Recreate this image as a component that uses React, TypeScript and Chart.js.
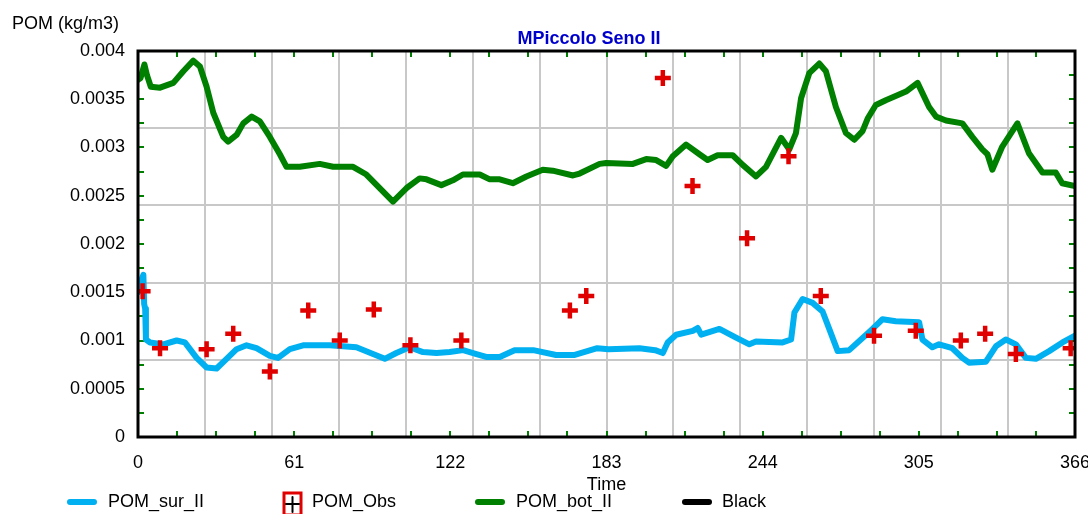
import React, { useEffect, useRef } from 'react';
import { Chart, registerables } from 'chart.js';

Chart.register(...registerables);

const FONT = "'Liberation Sans', Arial, Helvetica, sans-serif";

const chartTitle = 'MPiccolo Seno II';
const yAxisTitle = 'POM (kg/m3)';
const xAxisTitle = 'Time';

const xTickLabels = [0, 61, 122, 183, 244, 305, 366];
const yTickValues = [0, 0.0005, 0.001, 0.0015, 0.002, 0.0025, 0.003, 0.0035, 0.004];
const yTickLabels = ['0', '0.0005', '0.001', '0.0015', '0.002', '0.0025', '0.003', '0.0035', '0.004'];
const xGridDivisions = 14;
const yGridValues = [0.0008, 0.0016, 0.0024, 0.0032];
const xMinorDivisions = 24;
const yMinorStep = 0.00025;

const seriesNames = ['POM_sur_II', 'POM_Obs', 'POM_bot_II', 'Black'];
const seriesColors = ['#00B0F0', '#E00000', '#008000', '#000000'];

const surDays = [
  0, 1.5, 2.1, 2.4, 2.8, 3.1, 4.7, 9.9, 15.1, 18.3, 22.9, 26.8, 30.7, 34.6, 38.5, 42.4, 46.3,
  51.5, 54.7, 59.3, 64.5, 74.9, 85.3, 91.8, 96.4, 100.9, 106.1, 111.3, 116.6, 121.7, 127,
  132.2, 136, 141.3, 147.1, 154.4, 163.3, 170.6, 179.4, 183.8, 195.9, 202, 205, 206.9, 210.2,
  216.7, 218.6, 220, 227.1, 233.6, 238.8, 241.4, 251.8, 255.1, 256.4, 259.6, 263.5, 267.4,
  270, 273.3, 277.8, 286.9, 290.8, 296, 305.1, 306.4, 310.3, 312.9, 318.1, 322, 324.6, 331.2,
  335.1, 339, 342.9, 346.8, 350.7, 355.9, 361.1, 366,
];
const surValues = [
  0.0015, 0.00164, 0.00168, 0.00138, 0.00133, 0.00101, 0.00098, 0.00096, 0.001, 0.00098,
  0.00082, 0.00072, 0.00071, 0.00081, 0.00091, 0.00095, 0.00092, 0.00084, 0.00082, 0.00091,
  0.00095, 0.00095, 0.00093, 0.00086, 0.00081, 0.00087, 0.00093, 0.00088, 0.00087, 0.00088,
  0.0009, 0.00086, 0.00083, 0.00083, 0.0009, 0.0009, 0.00085, 0.00085, 0.00092, 0.00091,
  0.00092, 0.0009, 0.00087, 0.00098, 0.00106, 0.0011, 0.00113, 0.00106, 0.00112, 0.00103,
  0.00096, 0.00099, 0.00098, 0.00101, 0.00129, 0.00143, 0.00139, 0.0013, 0.00112, 0.00089,
  0.0009, 0.00112, 0.00122, 0.0012, 0.00119, 0.00101, 0.00093, 0.00096, 0.00092, 0.00082,
  0.00077, 0.00078, 0.00094, 0.00101, 0.00096, 0.00082, 0.00081, 0.00089, 0.00098, 0.00105,
];

const botDays = [
  0, 1, 2.5, 3.5, 5, 8.6, 13.8, 17.7, 21.6, 24.2, 26.8, 29.4, 33.3, 35.2, 38.5, 41.1, 44.4,
  47.6, 51.5, 55.4, 58, 63.2, 71, 76.2, 84, 89.2, 94.4, 99.6, 104.9, 110, 112.7, 118.5, 123,
  126.9, 133.5, 137.4, 141.3, 146.4, 151.7, 158.1, 162, 169.9, 172.5, 180.3, 182.9, 193.3,
  198.5, 202.4, 206.3, 208.9, 214.1, 219.3, 222.5, 226.4, 232.3, 236.2, 241.4, 245.3, 251.2,
  254.4, 257, 259, 262.2, 266.1, 268.7, 272.6, 276.5, 279.8, 283, 285, 288.2, 292.1, 300,
  304.5, 309, 311.7, 315.6, 322, 325.9, 329.8, 331.8, 333.7, 337.6, 343.5, 348, 353.3, 358.5,
  361, 366,
];
const botValues = [
  0.0037, 0.00372, 0.00386, 0.00375, 0.00363, 0.00362, 0.00367, 0.00379, 0.0039, 0.00384,
  0.00363, 0.00336, 0.00311, 0.00306, 0.00313, 0.00325, 0.00332, 0.00327, 0.00311, 0.00293,
  0.0028, 0.0028, 0.00283, 0.0028, 0.0028, 0.00272, 0.00258, 0.00244, 0.00258, 0.00268,
  0.00267, 0.00261, 0.00266, 0.00272, 0.00272, 0.00267, 0.00267, 0.00263, 0.0027, 0.00277,
  0.00276, 0.00271, 0.00273, 0.00283, 0.00284, 0.00283, 0.00288, 0.00287, 0.00281, 0.00291,
  0.00303, 0.00293, 0.00287, 0.00292, 0.00292, 0.00282, 0.0027, 0.0028, 0.0031, 0.00298,
  0.00315, 0.00351, 0.00377, 0.00387, 0.00379, 0.00342, 0.00315, 0.00308, 0.00317, 0.0033,
  0.00344, 0.00349, 0.00358, 0.00367, 0.00342, 0.00332, 0.00328, 0.00325, 0.00311, 0.00298,
  0.00293, 0.00277, 0.00301, 0.00325, 0.00294, 0.00274, 0.00274, 0.00263, 0.0026,
];

const obsDays = [
  1.8, 8.6, 26.8, 37.2, 51.5, 66.5, 78.8, 92.1, 106.4, 126.3, 168.7, 175.1, 205, 216.6, 237.9,
  254.1, 266.7, 287.5, 303.8, 321.4, 330.9, 342.9, 364.3,
];
const obsValues = [
  0.00151, 0.00092, 0.00091, 0.00107, 0.00068, 0.00131, 0.001, 0.00132, 0.00095, 0.001,
  0.00131, 0.00146, 0.00372, 0.0026, 0.00206, 0.00291, 0.00146, 0.00105, 0.0011, 0.001,
  0.00107, 0.00086, 0.00092,
];

const near = (a: number, b: number) => Math.abs(a - b) < 1e-6;

const xGridValues: number[] = [];
for (let k = 1; k < xGridDivisions; k++) xGridValues.push((366 * k) / xGridDivisions);
const uniq = (arr: number[], eps: number) => {
  const out: number[] = [];
  arr.sort((a, b) => a - b).forEach((v) => {
    if (!out.some((o) => Math.abs(o - v) < eps)) out.push(v);
  });
  return out;
};
const xAllTicks = uniq([...xTickLabels, ...xGridValues], 1e-6);
const yAllTicks = uniq([...yTickValues, ...yGridValues], 1e-9);

const decorPlugin = {
  id: 'decor',
  beforeDatasetsDraw(chart: any) {
    const { ctx, chartArea: a, scales } = chart;
    ctx.save();
    ctx.strokeStyle = '#008000';
    ctx.lineWidth = 2;
    ctx.beginPath();
    for (let k = 1; k < xMinorDivisions; k++) {
      const px = Math.round(scales.x.getPixelForValue((366 * k) / xMinorDivisions));
      ctx.moveTo(px, a.top);
      ctx.lineTo(px, a.top + 6);
      ctx.moveTo(px, a.bottom);
      ctx.lineTo(px, a.bottom - 6);
    }
    for (let v = yMinorStep; v < 0.004 - 1e-9; v += yMinorStep) {
      const py = Math.round(scales.y.getPixelForValue(v));
      ctx.moveTo(a.left, py);
      ctx.lineTo(a.left + 6, py);
      ctx.moveTo(a.right, py);
      ctx.lineTo(a.right - 6, py);
    }
    ctx.stroke();
    ctx.restore();
  },
  afterDatasetsDraw(chart: any) {
    const { ctx, chartArea: a } = chart;
    ctx.save();
    ctx.strokeStyle = '#000';
    ctx.lineWidth = 3;
    ctx.strokeRect(a.left, a.top, a.right - a.left, a.bottom - a.top);
    ctx.restore();
  },
  afterDraw(chart: any) {
    const { ctx, chartArea: a } = chart;
    ctx.save();
    ctx.fillStyle = '#0000CD';
    ctx.font = `bold 18px ${FONT}`;
    ctx.textAlign = 'center';
    ctx.textBaseline = 'alphabetic';
    ctx.fillText(chartTitle, 589, 44);
    ctx.fillStyle = '#000';
    ctx.font = `18px ${FONT}`;
    ctx.textAlign = 'left';
    ctx.fillText(yAxisTitle, 12, 29);
    ctx.textAlign = 'center';
    ctx.fillText(xAxisTitle, (a.left + a.right) / 2, 490);
    const legendX = [67, 283, 475, 682];
    const textX = [108, 312, 516, 722];
    const ly = 502;
    ctx.textAlign = 'left';
    seriesNames.forEach((name, i) => {
      const x0 = legendX[i];
      if (i === 1) {
        ctx.strokeStyle = seriesColors[i];
        ctx.lineWidth = 3;
        ctx.strokeRect(284, 493, 17, 22);
        ctx.strokeStyle = '#000';
        ctx.lineWidth = 2;
        ctx.beginPath();
        ctx.moveTo(286, 504);
        ctx.lineTo(299, 504);
        ctx.moveTo(292.5, 497);
        ctx.lineTo(292.5, 512);
        ctx.stroke();
      } else {
        ctx.strokeStyle = seriesColors[i];
        ctx.lineWidth = 6;
        ctx.lineCap = 'round';
        ctx.beginPath();
        ctx.moveTo(x0 + 3, ly);
        ctx.lineTo(x0 + 27, ly);
        ctx.stroke();
      }
      ctx.fillStyle = '#000';
      ctx.fillText(name, textX[i], 507);
    });
    ctx.restore();
  },
};

export default function App() {
  const canvasRef = useRef<HTMLCanvasElement | null>(null);

  useEffect(() => {
    if (!canvasRef.current) return;
    Chart.defaults.font.family = FONT;
    const chart = new Chart(canvasRef.current, {
      type: 'line',
      data: {
        datasets: [
          {
            label: seriesNames[0],
            data: surDays.map((d, i) => ({ x: d, y: surValues[i] })),
            borderColor: seriesColors[0],
            backgroundColor: seriesColors[0],
            borderWidth: 6,
            pointRadius: 0,
            pointHoverRadius: 0,
            tension: 0,
            fill: false,
            borderJoinStyle: 'round',
            borderCapStyle: 'round',
            order: 1,
          },
          {
            label: seriesNames[1],
            data: obsDays.map((d, i) => ({ x: d, y: obsValues[i] })),
            showLine: false,
            pointStyle: 'cross',
            pointRadius: 8,
            pointHoverRadius: 8,
            pointBorderWidth: 4.5,
            borderColor: seriesColors[1],
            backgroundColor: seriesColors[1],
            order: 0,
            clip: 0,
          },
          {
            label: seriesNames[2],
            data: botDays.map((d, i) => ({ x: d, y: botValues[i] })),
            borderColor: seriesColors[2],
            backgroundColor: seriesColors[2],
            borderWidth: 6,
            pointRadius: 0,
            pointHoverRadius: 0,
            tension: 0,
            fill: false,
            borderJoinStyle: 'round',
            borderCapStyle: 'round',
            order: 2,
          },
          {
            label: seriesNames[3],
            data: [],
            borderColor: seriesColors[3],
            borderWidth: 6,
            pointRadius: 0,
            order: 3,
          },
        ],
      } as any,
      options: {
        animation: false,
        responsive: false,
        events: [],
        layout: { padding: { top: 51, right: 13, bottom: 0, left: 0 } },
        plugins: {
          legend: { display: false },
          title: { display: false },
          tooltip: { enabled: false },
        },
        scales: {
          x: {
            type: 'linear',
            min: 0,
            max: 366,
            border: { display: false },
            grid: {
              drawTicks: false,
              lineWidth: 2,
              color: (ctx: any) =>
                xGridValues.some((g) => near(g, ctx.tick.value)) ? '#C8C8C8' : 'rgba(0,0,0,0)',
            },
            afterBuildTicks: (scale: any) => {
              scale.ticks = xAllTicks.map((v) => ({ value: v }));
            },
            afterFit: (scale: any) => {
              scale.height = 77;
              scale.paddingLeft = 0;
              scale.paddingRight = 0;
            },
            ticks: {
              autoSkip: false,
              maxRotation: 0,
              minRotation: 0,
              padding: 15,
              color: '#000',
              font: { size: 18, family: FONT },
              callback: (v: any) => {
                const idx = xTickLabels.findIndex((t) => near(t, v));
                return idx >= 0 ? String(xTickLabels[idx]) : '';
              },
            },
          },
          y: {
            type: 'linear',
            min: 0,
            max: 0.004,
            border: { display: false },
            grid: {
              drawTicks: false,
              lineWidth: 2,
              color: (ctx: any) =>
                yGridValues.some((g) => Math.abs(g - ctx.tick.value) < 1e-9) ? '#C8C8C8' : 'rgba(0,0,0,0)',
            },
            afterBuildTicks: (scale: any) => {
              scale.ticks = yAllTicks.map((v) => ({ value: v }));
            },
            afterFit: (scale: any) => {
              scale.width = 138;
              scale.paddingTop = 0;
              scale.paddingBottom = 0;
            },
            ticks: {
              autoSkip: false,
              padding: 13,
              color: '#000',
              font: { size: 18, family: FONT },
              callback: (v: any) => {
                const idx = yTickValues.findIndex((t) => Math.abs(t - v) < 1e-9);
                return idx >= 0 ? yTickLabels[idx] : '';
              },
            },
          },
        },
      } as any,
      plugins: [decorPlugin],
    });
    return () => chart.destroy();
  }, []);

  return (
    <div style={{ position: 'fixed', left: 0, top: 0, width: 1088, height: 514, background: '#fff' }}>
      <canvas ref={canvasRef} width={1088} height={514} style={{ display: 'block' }} />
    </div>
  );
}
